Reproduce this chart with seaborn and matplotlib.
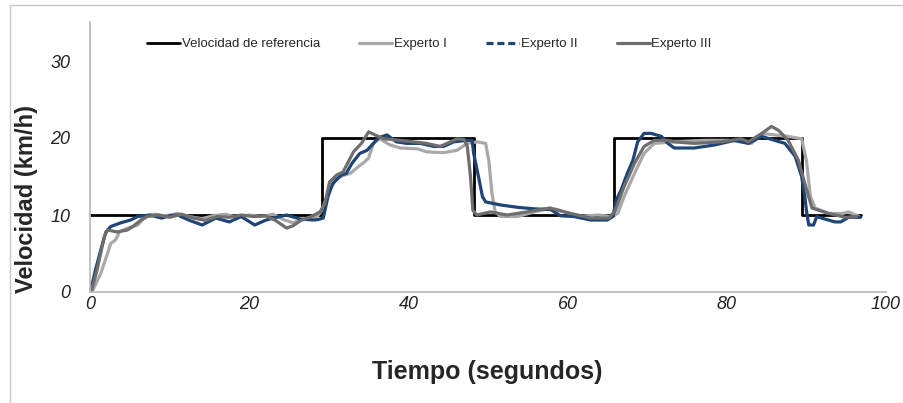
import matplotlib
matplotlib.use('Agg')
import matplotlib.pyplot as plt
import seaborn as sns
from matplotlib.lines import Line2D
from matplotlib.patches import Rectangle

# reference speed (step profile)
ref_t = [0, 29.1, 29.1, 48.2, 48.2, 65.8, 65.8, 89.5, 89.5, 96.8]
ref_v = [10, 10, 20, 20, 10, 10, 20, 20, 10, 10]

# Experto I
t1 = [0.0, 0.3, 0.8, 1.35, 1.8, 2.2, 2.6, 3.2, 3.7, 4.7, 6.0, 7.0, 8.0, 9.5, 11.0, 12.5,
      14.0, 15.5, 17.0, 18.5, 20.0, 21.5, 23.0, 24.3, 25.5, 26.8, 28.0, 28.6, 29.1, 30.1,
      31.0, 32.0, 32.7, 33.5, 34.5, 35.0, 35.6, 36.4, 37.7, 39.0, 41.1, 42.3, 44.4, 46.1,
      47.4, 48.6, 49.7, 50.1, 50.5, 50.9, 51.6, 53.7, 55.8, 57.9, 59.1, 61.2, 63.8, 65.4,
      66.3, 67.1, 68.4, 69.6, 70.9, 73.4, 77.2, 80.2, 83.1, 84.4, 86.0, 87.7, 89.4, 90.0,
      90.5, 91.1, 92.8, 94.5, 95.3, 96.6]
v1 = [0.1, 0.1, 1.2, 2.4, 3.8, 5.0, 6.3, 6.75, 7.8, 8.3, 8.7, 9.8, 10.1, 9.9, 10.2, 9.8,
      9.5, 9.9, 10.1, 9.7, 10.0, 9.8, 10.1, 9.4, 9.0, 9.4, 9.6, 9.9, 10.6, 13.2,
      14.8, 15.2, 15.4, 16.1, 16.9, 17.4, 19.3, 19.9, 19.1, 18.7, 18.6, 18.2, 18.1, 18.4,
      19.3, 19.5, 19.3, 17.1, 12.8, 10.4, 9.8, 9.8, 10.4, 10.9, 10.6, 9.8, 10.0, 9.8,
      10.2, 12.4, 15.4, 18.0, 19.3, 19.5, 19.7, 19.7, 19.3, 20.6, 20.4, 20.2, 19.9, 17.1,
      12.4, 10.9, 10.2, 10.2, 10.4, 9.8]

# Experto II
t2 = [0.0, 0.16, 0.7, 1.35, 2.0, 2.6, 3.9, 5.1, 6.0, 7.5, 9.0, 10.0, 11.0, 12.5, 14.1,
      15.8, 17.5, 19.0, 20.7, 22.0, 23.0, 24.7, 26.3, 28.0, 28.6, 29.3, 29.9, 30.5, 31.6,
      32.2, 32.9, 33.9, 34.8, 35.6, 36.2, 37.3, 38.5, 39.8, 41.5, 43.2, 44.4, 45.7, 47.4,
      48.0, 48.2, 48.8, 49.3, 49.7, 51.6, 53.7, 55.8, 57.9, 59.1, 60.8, 62.9, 65.0, 65.7,
      66.1, 66.7, 67.5, 68.2, 68.8, 69.6, 70.5, 71.8, 72.6, 73.4, 75.9, 78.5, 81.0, 82.7,
      84.4, 86.0, 87.3, 88.6, 89.4, 89.8, 90.0, 90.3, 90.9, 91.3, 91.9, 93.6, 94.3, 95.3,
      96.8]
v2 = [0.3, 0.5, 2.9, 5.45, 7.8, 8.5, 9.0, 9.35, 9.8, 10.0, 9.6, 9.9, 10.0, 9.3, 8.7,
      9.6, 9.1, 9.8, 8.7, 9.3, 9.6, 10.0, 9.5, 9.35, 9.4, 9.6, 12.4, 14.1, 15.2,
      15.4, 16.7, 18.0, 18.4, 19.3, 20.0, 20.4, 19.5, 19.3, 19.3, 18.9, 18.9, 19.5, 19.7,
      19.7, 18.0, 15.0, 12.4, 11.7, 11.3, 11.0, 10.8, 10.7, 9.9, 9.8, 9.35, 9.35, 9.8,
      11.9, 13.2, 15.4, 17.1, 19.5, 20.6, 20.6, 20.2, 19.3, 18.7, 18.7, 19.1, 19.7, 19.3,
      20.2, 19.7, 19.3, 17.6, 15.0, 12.4, 10.6, 8.7, 8.7, 9.8, 9.6, 9.1, 9.1, 9.7,
      9.7]

# Experto III
t3 = [0.0, 0.2, 0.9, 1.8, 2.2, 3.4, 4.7, 5.5, 6.4, 7.2, 8.5, 10.0, 11.5, 13.0, 14.5,
      16.0, 17.5, 19.0, 20.5, 22.0, 23.3, 24.7, 25.5, 26.5, 27.8, 28.9, 29.5, 30.1, 31.0,
      31.8, 33.1, 34.1, 35.0, 35.8, 36.9, 39.0, 42.3, 44.0, 46.1, 47.0, 47.4, 47.8, 48.1,
      48.6, 50.3, 52.4, 54.9, 57.7, 60.0, 62.9, 65.2, 66.0, 67.1, 68.4, 69.6, 70.9, 72.6,
      73.4, 75.9, 79.3, 81.8, 82.7, 84.4, 85.6, 86.5, 87.7, 89.0, 89.8, 90.7, 92.8, 94.9,
      96.3]
v3 = [0.2, 0.2, 2.9, 7.2, 8.05, 7.8, 8.05, 8.6, 9.35, 9.8, 10.0, 9.7, 10.1, 9.6, 9.3,
      9.8, 9.7, 10.0, 9.8, 9.9, 9.3, 8.3, 8.6, 9.3, 9.8, 10.4, 11.5, 14.3, 15.2,
      15.6, 18.2, 19.3, 20.8, 20.4, 19.9, 19.7, 19.3, 18.9, 19.9, 19.8, 18.9, 15.0, 10.6,
      10.0, 10.4, 10.0, 10.4, 10.9, 10.3, 9.6, 9.6, 10.6, 13.7, 16.7, 18.9, 19.7, 19.7,
      19.5, 19.3, 19.5, 19.9, 19.5, 20.6, 21.5, 21.0, 19.7, 17.1, 14.1, 10.9, 10.2, 9.7,
      9.8]

labels = ['Velocidad de referencia', 'Experto I', 'Experto II', 'Experto III']
colors = ['black', '#A8A8A8', '#1F4476', '#6E6E6E']
x_ticks = [0, 20, 40, 60, 80, 100]
y_ticks = [0, 10, 20, 30]

sns.set_style('white')
plt.rcParams['font.family'] = ['Liberation Sans', 'DejaVu Sans']

fig = plt.figure(figsize=(9.04, 4.03), dpi=100)
ax = fig.add_axes([90 / 904, 111 / 403, 796 / 904, 269.5 / 403])

sns.lineplot(x=ref_t, y=ref_v, ax=ax, color=colors[0], lw=2, sort=False, estimator=None)
sns.lineplot(x=t1, y=v1, ax=ax, color=colors[1], lw=2.3, sort=False, estimator=None)
sns.lineplot(x=t2, y=v2, ax=ax, color=colors[2], lw=2.3, sort=False, estimator=None)
sns.lineplot(x=t3, y=v3, ax=ax, color=colors[3], lw=2.3, sort=False, estimator=None)

ax.set_xlim(0, 100)
ax.set_ylim(0, 35)
ax.set_xticks(x_ticks)
ax.set_yticks(y_ticks)
ax.set_xticklabels([str(v) for v in x_ticks], fontstyle='italic', fontsize=13)
ax.set_yticklabels([str(v) for v in y_ticks], fontstyle='italic', fontsize=13)
ax.tick_params(axis='x', length=0, pad=3, colors='#222222')
ax.tick_params(axis='y', length=0, pad=14, colors='#222222')

for s in ['top', 'right']:
    ax.spines[s].set_visible(False)
for s in ['left', 'bottom']:
    ax.spines[s].set_color('#BDBDBD')
    ax.spines[s].set_linewidth(1.3)
ax.set_xlabel('')
ax.set_ylabel('')

handles = [
    Line2D([], [], color=colors[0], lw=2),
    Line2D([], [], color=colors[1], lw=2.3),
    Line2D([], [], color=colors[2], lw=2.3, ls=(0, (2.2, 1.2))),
    Line2D([], [], color=colors[3], lw=2.3),
]
ax.legend(handles, labels, loc='center', bbox_to_anchor=(0.4265, 0.92), ncol=4,
          frameon=False, fontsize=9.5, handlelength=2.5, handletextpad=0.15,
          columnspacing=2.95)

fig.text(487 / 904, 1 - 372 / 403, 'Tiempo (segundos)', ha='center', va='center',
         fontsize=18, fontweight='bold')
fig.text(27 / 904, 1 - 199 / 403, 'Velocidad (km/h)', ha='center', va='center',
         rotation=90, fontsize=17, fontweight='bold')

# outer chart border
fig.patches.append(Rectangle((10 / 904, -0.2), 1.2, 1.2 + (403 - 5) / 403 - 1.0,
                             transform=fig.transFigure, fill=False,
                             edgecolor='#C8C8C8', lw=1))

fig.savefig('out.png', dpi=100)
